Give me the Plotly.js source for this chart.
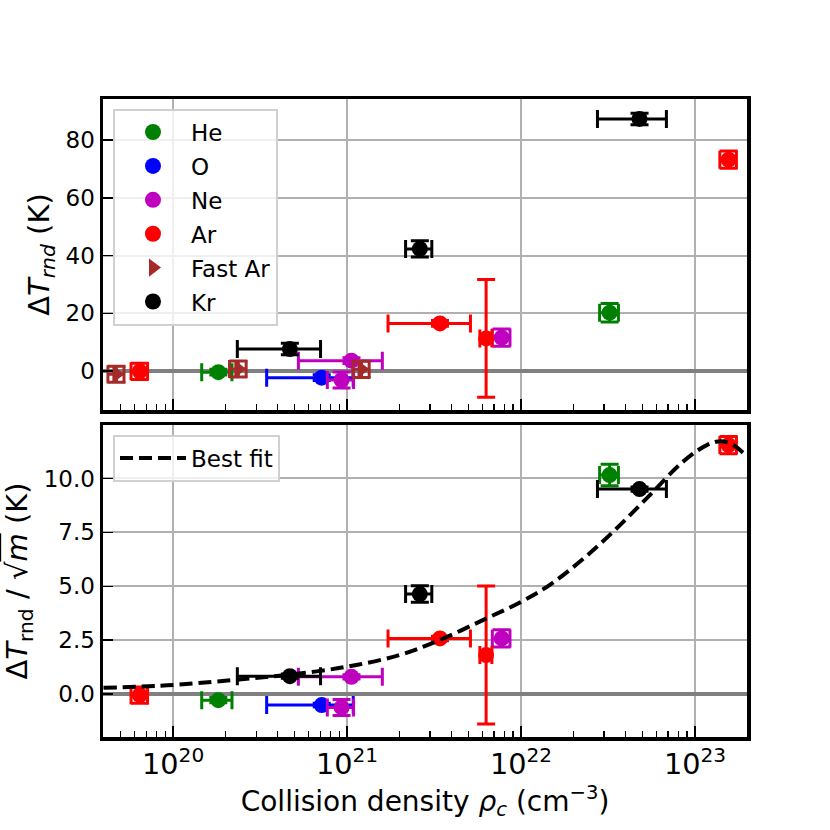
<!DOCTYPE html>
<html>
<head>
<meta charset="utf-8">
<script src="https://cdn.plot.ly/plotly-3.0.1.min.js"></script>
<style>
  html, body { margin: 0; padding: 0; background: #fff; }
  #myDiv { width: 830px; height: 830px; }
</style>
</head>
<body>
<div id="myDiv"></div>
<script>
// collision density (cm^-3) per gas, with x errors
var heX = [1.82e20, 3.23e22];
var heXerr = [0.36e20, 0.4e22];
var heTop = [-0.4, 20.2];
var heTopErr = [1.0, 3.2];
var heBot = [-0.28, 10.16];
var heBotErr = [0.12, 0.5];

var oX = [7.15e20];
var oXerr = [3.7e20];
var oTop = [-2.3];
var oTopErr = [1.0];
var oBot = [-0.51];
var oBotErr = [0.08];

var neX = [9.3e20, 1.06e21, 7.74e21];
var neXerr = [1.6e20, 5.35e20, 0.9e21];
var neTop = [-3.1, 3.6, 11.6];
var neTopErr = [2.8, 1.0, 3.0];
var neBot = [-0.62, 0.80, 2.58];
var neBotErr = [0.37, 0.1, 0.4];

var arX = [6.43e19, 3.42e21, 6.3e21, 1.56e23];
var arXerr = [0.7e19, 1.7e21, 0.5e21, 1.7e22];
var arTop = [-0.1, 16.5, 11.3, 73.2];
var arTopErr = [2.8, 1.0, 20.4, 3.0];
var arBot = [-0.05, 2.58, 1.81, 11.55];
var arBotErr = [0.38, 0.1, 3.2, 0.4];

var fastArX = [4.72e19, 2.37e20, 1.21e21];
var fastArXerr = [0.5e19, 0.26e20, 1.3e20];
var fastArTop = [-1.1, 0.7, 0.6];
var fastArTopErr = [2.8, 2.8, 2.8];

var krX = [4.69e20, 2.62e21, 4.8e22];
var krXerr = [2.35e20, 0.45e21, 2.05e22];
var krTop = [7.6, 42.3, 87.3];
var krTopErr = [2.0, 2.8, 2.0];
var krBot = [0.83, 4.64, 9.51];
var krBotErr = [0.1, 0.38, 0.1];

// best fit curve
var fitX = [3.98e19, 1e20, 2.24e20, 4.68e20, 1e21, 2.0e21, 3.39e21, 6.03e21, 1e22,
            1.48e22, 2.29e22, 3.55e22, 5.5e22, 8.51e22, 1.17e23, 1.41e23, 1.66e23, 2.0e23];
var fitY = [0.29, 0.42, 0.66, 0.90, 1.27, 1.81, 2.50, 3.43, 4.28,
            5.09, 6.29, 7.69, 9.23, 10.77, 11.55, 11.73, 11.55, 11.0];

var FONT = 'DejaVu Sans, sans-serif';

function errTrace(name, color, symbol, x, xerr, y, yerr, panel) {
  var top = panel === 'top';
  return {
    x: x, y: y, type: 'scatter', mode: 'markers', name: name,
    legendgroup: name, showlegend: top,
    xaxis: top ? 'x' : 'x2', yaxis: top ? 'y' : 'y2',
    marker: {color: color, size: 16, symbol: symbol},
    error_x: {type: 'data', array: xerr, color: color, thickness: 3, width: 9},
    error_y: {type: 'data', array: yerr, color: color, thickness: 3, width: 9}
  };
}

var data = [
  errTrace('He', '#008000', 'circle', heX, heXerr, heTop, heTopErr, 'top'),
  errTrace('O', '#0000ff', 'circle', oX, oXerr, oTop, oTopErr, 'top'),
  errTrace('Ne', '#bf00bf', 'circle', neX, neXerr, neTop, neTopErr, 'top'),
  errTrace('Ar', '#ff0000', 'circle', arX, arXerr, arTop, arTopErr, 'top'),
  errTrace('Fast Ar', '#a52a2a', 'triangle-right', fastArX, fastArXerr, fastArTop, fastArTopErr, 'top'),
  errTrace('Kr', '#000000', 'circle', krX, krXerr, krTop, krTopErr, 'top'),
  errTrace('He', '#008000', 'circle', heX, heXerr, heBot, heBotErr, 'bot'),
  errTrace('O', '#0000ff', 'circle', oX, oXerr, oBot, oBotErr, 'bot'),
  errTrace('Ne', '#bf00bf', 'circle', neX, neXerr, neBot, neBotErr, 'bot'),
  errTrace('Ar', '#ff0000', 'circle', arX, arXerr, arBot, arBotErr, 'bot'),
  errTrace('Kr', '#000000', 'circle', krX, krXerr, krBot, krBotErr, 'bot'),
  {
    x: fitX, y: fitY, type: 'scatter', mode: 'lines', name: 'Best fit',
    xaxis: 'x2', yaxis: 'y2', legend: 'legend2',
    line: {color: 'black', width: 4, dash: '13px,6px', shape: 'spline'}
  }
];

var xBase = {
  type: 'log', range: [19.597, 23.299], dtick: 1,
  exponentformat: 'power', showexponent: 'all',
  showline: true, mirror: true, linecolor: 'black', linewidth: 3.5,
  ticks: 'inside', ticklen: 11, tickwidth: 1.5, tickcolor: 'black',
  showgrid: true, gridcolor: '#b0b0b0', gridwidth: 2,
  minor: {ticks: 'inside', ticklen: 6, tickwidth: 1.2, tickcolor: 'black', dtick: 'D1', showgrid: false},
  tickfont: {family: FONT, size: 23, color: 'black'}
};
var yBase = {
  showline: true, mirror: true, linecolor: 'black', linewidth: 3.5,
  ticks: 'inside', ticklen: 10, tickwidth: 1.5, tickcolor: 'black',
  showgrid: true, gridcolor: '#b0b0b0', gridwidth: 2,
  zeroline: true, zerolinecolor: '#808080', zerolinewidth: 4,
  tickfont: {family: FONT, size: 23, color: 'black'}
};

var layout = {
  width: 830, height: 830,
  paper_bgcolor: 'white', plot_bgcolor: 'white',
  margin: {l: 103, r: 83, t: 99, b: 93},
  font: {family: FONT, color: 'black'},
  xaxis: Object.assign({}, xBase, {anchor: 'y', showticklabels: false}),
  yaxis: Object.assign({}, yBase, {
    domain: [0.5125, 1], range: [-13.5, 94.2], dtick: 20, anchor: 'x',
    title: {text: 'Δ<i>T</i><sub><i>rnd</i></sub> (K)', font: {family: FONT, size: 29}, standoff: 8}
  }),
  xaxis2: Object.assign({}, xBase, {
    anchor: 'y2', matches: 'x',
    title: {text: 'Collision density <i>ρ</i><sub><i>c</i></sub> (cm<sup>−3</sup>)', font: {family: FONT, size: 28}, standoff: 10}
  }),
  yaxis2: Object.assign({}, yBase, {
    domain: [0, 0.489], range: [-1.99, 12.48], dtick: 2.5, tickformat: '.1f', anchor: 'x2',
    title: {text: 'Δ<i>T</i><sub>rnd</sub> / √<span style="text-decoration:overline"><i>m</i></span> (K)', font: {family: FONT, size: 29}, standoff: 8}
  }),
  legend: {
    x: 0.0155, y: 0.985, xanchor: 'left', yanchor: 'top',
    bgcolor: 'rgba(255,255,255,0.8)', bordercolor: '#d0d0d0', borderwidth: 2,
    font: {family: FONT, size: 23}, traceorder: 'grouped', tracegroupgap: 1,
    itemwidth: 66
  },
  legend2: {
    x: 0.0155, y: 0.474, xanchor: 'left', yanchor: 'top',
    bgcolor: 'rgba(255,255,255,0.8)', bordercolor: '#d0d0d0', borderwidth: 2,
    font: {family: FONT, size: 23}, itemwidth: 66
  }
};

Plotly.newPlot('myDiv', data, layout, {staticPlot: true});
</script>
</body>
</html>
